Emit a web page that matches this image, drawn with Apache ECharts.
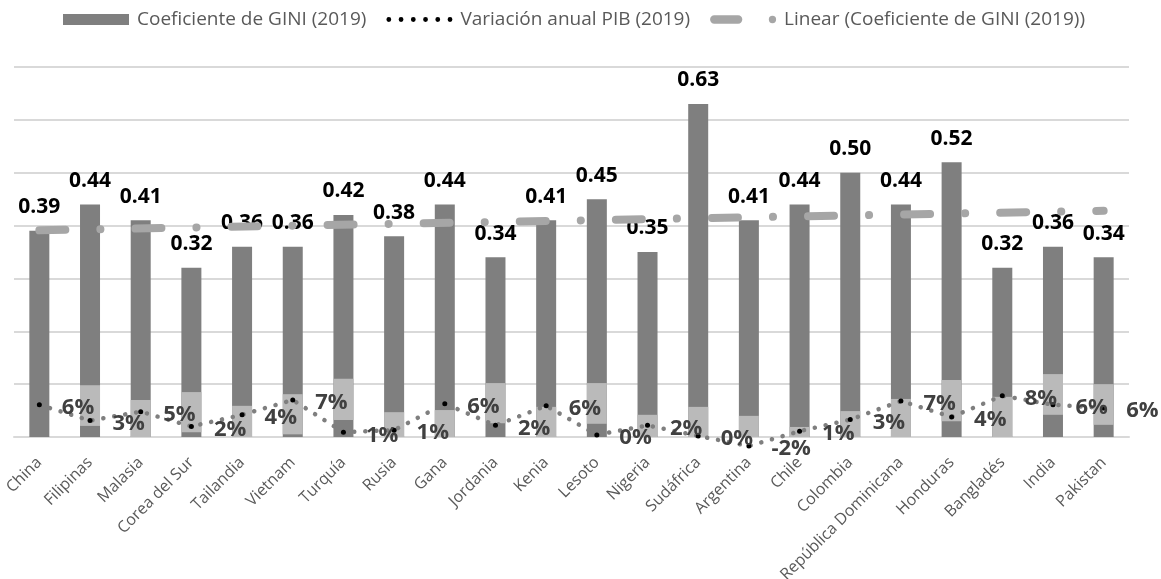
<!DOCTYPE html>
<html>
<head>
<meta charset="utf-8">
<script src="https://cdn.jsdelivr.net/npm/echarts@6/dist/echarts.min.js"></script>
<style>
  html, body { margin: 0; padding: 0; background: #fff; }
  #chart { width: 1161px; height: 579px; }
</style>
</head>
<body>
<div id="chart"></div>
<script>
// países
const paises = ['China', 'Filipinas', 'Malasia', 'Corea del Sur', 'Tailandia', 'Vietnam', 'Turquía', 'Rusia',
  'Gana', 'Jordania', 'Kenia', 'Lesoto', 'Nigeria', 'Sudáfrica', 'Argentina', 'Chile', 'Colombia',
  'República Dominicana', 'Honduras', 'Bangladés', 'India', 'Pakistan'];
// coeficiente de GINI 2019
const gini = [0.39, 0.44, 0.41, 0.32, 0.36, 0.36, 0.42, 0.38, 0.44, 0.34, 0.41, 0.45, 0.35, 0.63, 0.41,
  0.44, 0.50, 0.44, 0.52, 0.32, 0.36, 0.34];
// variación anual PIB 2019
const pib = [0.061, 0.031, 0.048, 0.020, 0.042, 0.070, 0.009, 0.013, 0.063, 0.022, 0.059, 0.004, 0.022,
  0.002, -0.017, 0.011, 0.033, 0.068, 0.038, 0.078, 0.061, 0.055];
// recuadros gris claro (inicio y fin)
const cajaIni = [0, 0.021, 0, 0.009, 0, 0.005, 0.032, 0, 0, 0.026, 0, 0.025, 0, 0, 0, 0, 0, 0, 0.030, 0, 0.042, 0.023];
const cajaFin = [0, 0.098, 0.070, 0.085, 0.059, 0.081, 0.110, 0.047, 0.051, 0.102, 0.057, 0.102, 0.042, 0.057,
  0.040, 0.019, 0.049, 0.072, 0.108, 0.076, 0.119, 0.100];
// tendencia lineal: extremos
const tendencia = [0.391, 0.428];

const fuente = 'Open Sans';
const tendData = paises.map((p, i) => i === 0 ? tendencia[0] : (i === paises.length - 1 ? tendencia[1] : null));

function circulo(cx, cy, r) {
  return 'M' + (cx - r) + ' ' + cy + ' A' + r + ' ' + r + ' 0 1 0 ' + (cx + r) + ' ' + cy +
    ' A' + r + ' ' + r + ' 0 1 0 ' + (cx - r) + ' ' + cy + ' Z ';
}
let iconoPuntos = 'path://';
for (let i = 0; i < 6; i++) iconoPuntos += circulo(2.4 + i * 12.2, 2.4, 2.4);
const iconoTend = 'path://M4 0 L27 0 A4 4 0 0 1 27 8 L4 8 A4 4 0 0 1 4 0 Z ' + circulo(60, 4, 3.5);

const chart = echarts.init(document.getElementById('chart'));
const option = {
  animation: false,
  textStyle: { fontFamily: fuente },
  legend: {
    top: 5,
    left: 58,
    itemWidth: 66,
    itemHeight: 11,
    itemGap: 20,
    textStyle: { fontFamily: fuente, fontSize: 19, color: '#595959', padding: [0, 0, 0, 3] },
    data: [
      { name: 'Coeficiente de GINI (2019)', icon: 'rect', itemStyle: { color: '#7f7f7f' } },
      { name: 'Variación anual PIB (2019)', icon: iconoPuntos, itemStyle: { color: '#000000' } },
      { name: 'Linear (Coeficiente de GINI (2019))', icon: iconoTend, itemStyle: { color: '#a6a6a6' } }
    ]
  },
  grid: { left: 14, right: 32, top: 67, bottom: 142, outerBoundsMode: 'none' },
  xAxis: {
    type: 'category',
    data: paises,
    axisLine: { lineStyle: { color: '#d9d9d9', width: 2 } },
    axisTick: { show: false },
    axisLabel: { rotate: 45, margin: 23, fontSize: 16, color: '#595959', fontFamily: fuente, interval: 0 }
  },
  yAxis: {
    type: 'value',
    min: 0,
    max: 0.7,
    interval: 0.1,
    axisLabel: { show: false },
    axisLine: { show: false },
    axisTick: { show: false },
    splitLine: { lineStyle: { color: '#d9d9d9', width: 2 } }
  },
  series: [
    {
      name: 'Coeficiente de GINI (2019)',
      type: 'bar',
      data: gini,
      barWidth: 20,
      barGap: '-100%',
      itemStyle: { color: '#7f7f7f' },
      label: {
        show: true,
        position: 'top',
        distance: 13,
        fontSize: 21,
        fontWeight: 'bold',
        color: '#000000',
        fontFamily: fuente,
        formatter: p => p.value.toFixed(2)
      }
    },
    {
      name: 'base',
      type: 'bar',
      stack: 'caja',
      data: cajaIni,
      barWidth: 20,
      barGap: '-100%',
      itemStyle: { color: 'rgba(0,0,0,0)' },
      silent: true
    },
    {
      name: 'caja',
      type: 'bar',
      stack: 'caja',
      data: cajaFin.map((v, i) => +(v - cajaIni[i]).toFixed(3)),
      barWidth: 20,
      barGap: '-100%',
      itemStyle: { color: '#bababa' },
      silent: true
    },
    {
      name: 'Linear (Coeficiente de GINI (2019))',
      type: 'line',
      data: tendData,
      connectNulls: true,
      showSymbol: false,
      symbol: 'none',
      z: 4,
      lineStyle: { color: '#a6a6a6', width: 8, type: [26, 35, 0.1, 35], cap: 'round' }
    },
    {
      name: 'Variación anual PIB (2019)',
      type: 'line',
      data: pib,
      clip: false,
      z: 5,
      symbol: 'circle',
      symbolSize: 5,
      itemStyle: { color: '#000000' },
      lineStyle: { color: '#7f7f7f', width: 4.5, type: [0.1, 11], cap: 'round' },
      label: {
        show: true,
        position: 'right',
        distance: 20,
        offset: [0, 3],
        fontSize: 22,
        fontWeight: 'bold',
        color: '#404040',
        fontFamily: fuente,
        formatter: p => Math.round(p.value * 100) + '%'
      }
    }
  ]
};
chart.setOption(option);
</script>
</body>
</html>
